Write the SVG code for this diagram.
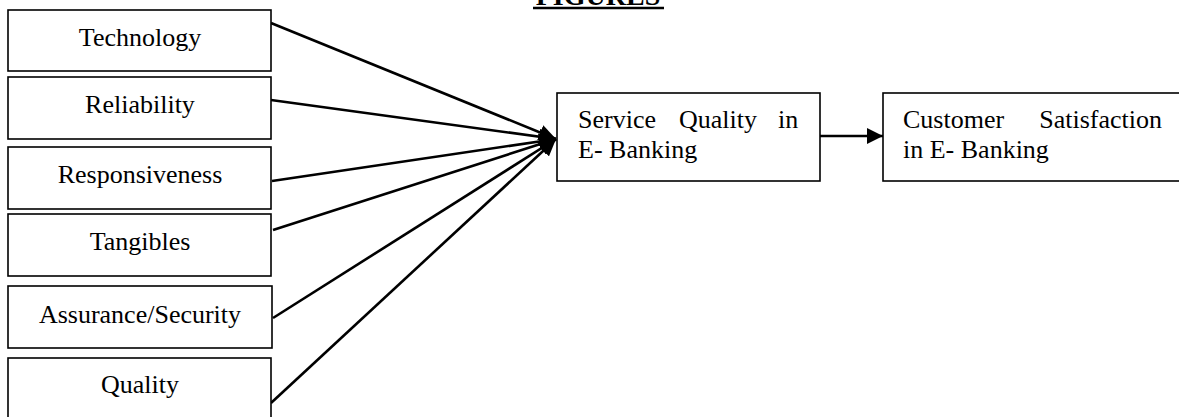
<svg xmlns="http://www.w3.org/2000/svg" width="1179" height="417" viewBox="0 0 1179 417">
<style>
.box{fill:#fff;stroke:#000;stroke-width:1.6}
.t{font-family:"Liberation Serif","Times New Roman",serif;font-size:26px;fill:#000}
.c{text-anchor:middle}
.con{stroke:#000;stroke-width:2.6;fill:none}
</style>
<defs>
<marker id="ah" markerUnits="userSpaceOnUse" markerWidth="18" markerHeight="16" refX="17" refY="8" orient="auto">
<path d="M0,0 L17,8 L0,16 Z" fill="#000"/>
</marker>
<marker id="ah2" markerUnits="userSpaceOnUse" markerWidth="17" markerHeight="16" refX="16" refY="8" orient="auto">
<path d="M0,0 L16,8 L0,16 Z" fill="#000"/>
</marker>
</defs>
<g id="title">
<text class="t c" x="598" y="5" style="font-weight:bold;font-size:28px">FIGURES</text>
<line x1="533" y1="8" x2="664" y2="8" stroke="#000" stroke-width="2.6"/>
</g>
<g id="connectors">
<line class="con" x1="271" y1="23" x2="556" y2="139" marker-end="url(#ah)"/>
<line class="con" x1="271" y1="100" x2="556" y2="139" marker-end="url(#ah)"/>
<line class="con" x1="272" y1="181" x2="556" y2="139" marker-end="url(#ah)"/>
<line class="con" x1="273" y1="230" x2="556" y2="139" marker-end="url(#ah)"/>
<line class="con" x1="273" y1="318" x2="556" y2="139" marker-end="url(#ah)"/>
<line class="con" x1="271" y1="403" x2="556" y2="139" marker-end="url(#ah)"/>
<line class="con" x1="820" y1="136" x2="883" y2="136" marker-end="url(#ah2)"/>
</g>
<g id="technology">
<rect class="box" x="8" y="10" width="263" height="61"/>
<text class="t c" x="140" y="46">Technology</text>
</g>
<g id="reliability">
<rect class="box" x="8" y="77" width="263" height="62"/>
<text class="t c" x="140" y="113">Reliability</text>
</g>
<g id="responsiveness">
<rect class="box" x="8" y="147" width="263" height="62"/>
<text class="t c" x="140" y="183">Responsiveness</text>
</g>
<g id="tangibles">
<rect class="box" x="8" y="214" width="263" height="62"/>
<text class="t c" x="140" y="250">Tangibles</text>
</g>
<g id="assurance">
<rect class="box" x="8" y="286" width="264" height="62"/>
<text class="t c" x="140" y="323">Assurance/Security</text>
</g>
<g id="quality">
<rect class="box" x="8" y="358" width="263" height="70"/>
<text class="t c" x="140" y="393">Quality</text>
</g>
<g id="service-quality">
<rect class="box" x="557" y="93" width="263" height="88"/>
<text class="t" x="578" y="128">Service</text>
<text class="t" x="679" y="128">Quality</text>
<text class="t" x="778" y="128">in</text>
<text class="t" x="578" y="158">E- Banking</text>
</g>
<g id="customer-satisfaction">
<rect class="box" x="883" y="93" width="300" height="88"/>
<text class="t" x="903" y="128">Customer</text>
<text class="t" x="1162" y="128" style="text-anchor:end">Satisfaction</text>
<text class="t" x="903" y="158">in E- Banking</text>
</g>
</svg>
